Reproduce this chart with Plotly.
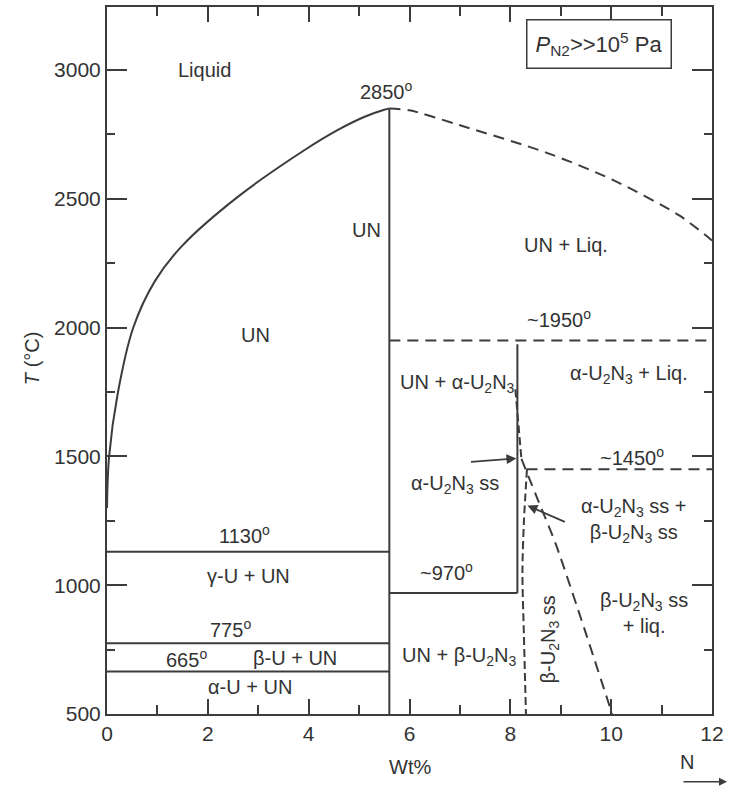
import plotly.graph_objects as go

# ---------------- data ----------------
liquidus_x = [0, 0.04, 0.21, 0.52, 0.95, 1.48, 2.6, 3.92, 4.58, 5.11, 5.5, 5.6]
liquidus_t = [1300, 1496, 1741, 1999, 2180, 2315, 2508, 2689, 2767, 2818, 2845, 2850]

un_liq_x = [5.6, 6.0, 7.0, 8.71, 10.02, 11.35, 12.0]
un_liq_t = [2850, 2843, 2785, 2679, 2574, 2435, 2338]

un_vert_x = [5.6, 5.6]
un_vert_t = [500, 2850]

iso_1950_x = [5.6, 12.0]
iso_1950_t = [1950, 1950]

iso_1450_x = [8.32, 12.0]
iso_1450_t = [1450, 1450]

u2n3_vert_x = [8.14, 8.14]
u2n3_vert_t = [970, 1935]

iso_970_x = [5.6, 8.14]
iso_970_t = [970, 970]

iso_1130_x = [0, 5.6]
iso_1130_t = [1130, 1130]
iso_775_x = [0, 5.6]
iso_775_t = [775, 775]
iso_665_x = [0, 5.6]
iso_665_t = [665, 665]

alpha_solvus_x = [8.1, 8.16, 8.22]
alpha_solvus_t = [1760, 1620, 1490]

beta_solvus_x = [8.33, 8.27, 8.24, 8.27, 8.31]
beta_solvus_t = [1450, 1250, 1050, 800, 500]

beta_liq_x = [8.22, 8.57, 8.9, 10.02]
beta_liq_t = [1490, 1320, 1160, 500]

x_ticks = [0, 2, 4, 6, 8, 10, 12]
y_ticks = [500, 1000, 1500, 2000, 2500, 3000]

labels = [
    ("Liquid", 1.94, 3000),
    ("2850<sup>o</sup>", 5.55, 2918),
    ("UN", 5.15, 2377),
    ("UN + Liq.", 9.1, 2322),
    ("UN", 2.95, 1970),
    ("~1950<sup>o</sup>", 8.97, 2036),
    ("UN + α-U<sub>2</sub>N<sub>3</sub>", 6.95, 1781),
    ("α-U<sub>2</sub>N<sub>3</sub> + Liq.", 10.35, 1816),
    ("~1450<sup>o</sup>", 10.42, 1498),
    ("α-U<sub>2</sub>N<sub>3</sub> ss", 6.91, 1390),
    ("α-U<sub>2</sub>N<sub>3</sub> ss +<br>β-U<sub>2</sub>N<sub>3</sub> ss", 10.45, 1252),
    ("1130<sup>o</sup>", 2.73, 1197),
    ("γ-U + UN", 2.8, 1034),
    ("775<sup>o</sup>", 2.44, 833),
    ("665<sup>o</sup>", 1.58, 717),
    ("β-U + UN", 3.72, 717),
    ("α-U + UN", 2.83, 605),
    ("~970<sup>o</sup>", 6.73, 1053),
    ("UN + β-U<sub>2</sub>N<sub>3</sub>", 6.99, 724),
    ("β-U<sub>2</sub>N<sub>3</sub> ss<br>+ liq.", 10.65, 893),
]

# ---------------- styles ----------------
LC = "#3c3c3c"
TC = "#333333"
FONT = "Liberation Sans, Arial, sans-serif"
FS = 20

# plot-area pixel geometry (for paper-coordinate placement outside the axes)
L, R, T, B, W, H = 107, 16, 5, 74, 729, 788
PW, PH = W - L - R, H - T - B


def px(xp):
    return (xp - L) / PW


def py(yp):
    return (H - B - yp) / PH


fig = go.Figure()


def add_line(xs, ts, dash="solid", shape="linear", smoothing=0.8):
    fig.add_trace(go.Scatter(
        x=xs, y=ts, mode="lines",
        line=dict(color=LC, width=2, dash=dash, shape=shape, smoothing=smoothing),
        hoverinfo="skip", showlegend=False, cliponaxis=True))


DASH = "11px,7px"
add_line(liquidus_x, liquidus_t, shape="spline", smoothing=1.0)
add_line(un_liq_x, un_liq_t, dash=DASH, shape="spline")
add_line(un_vert_x, un_vert_t)
add_line(iso_1950_x, iso_1950_t, dash=DASH)
add_line(iso_1450_x, iso_1450_t, dash=DASH)
add_line(u2n3_vert_x, u2n3_vert_t)
add_line(iso_970_x, iso_970_t)
add_line(iso_1130_x, iso_1130_t)
add_line(iso_775_x, iso_775_t)
add_line(iso_665_x, iso_665_t)
add_line(alpha_solvus_x, alpha_solvus_t, dash="8px,4px")
add_line(beta_solvus_x, beta_solvus_t, dash="8px,4px", shape="spline")
add_line(beta_liq_x, beta_liq_t, dash=DASH, shape="spline")

annotations = []
for txt, x, y in labels:
    annotations.append(dict(text=txt, x=x, y=y, xref="x", yref="y",
                            showarrow=False, font=dict(size=FS, color=TC, family=FONT)))

# rotated beta-U2N3 ss label
annotations.append(dict(text="β-U<sub>2</sub>N<sub>3</sub> ss", x=8.77, y=790, xref="x", yref="y",
                        showarrow=False, textangle=-90, font=dict(size=FS, color=TC, family=FONT)))

# arrows
annotations.append(dict(text="", x=8.12, y=1492, ax=7.19, ay=1478, xref="x", yref="y",
                        axref="x", ayref="y", showarrow=True, arrowhead=2, arrowsize=1.1,
                        arrowwidth=1.8, arrowcolor=LC, standoff=0))
annotations.append(dict(text="", x=8.34, y=1309, ax=9.11, ay=1243, xref="x", yref="y",
                        axref="x", ayref="y", showarrow=True, arrowhead=2, arrowsize=1.1,
                        arrowwidth=1.8, arrowcolor=LC, standoff=0))

# pressure box
annotations.append(dict(text="<i>P</i><sub>N2</sub>&gt;&gt;10<sup>5</sup> Pa", x=9.76, y=3100,
                        xref="x", yref="y", showarrow=False, bordercolor=LC, borderwidth=1.5,
                        borderpad=8, bgcolor="white", font=dict(size=22, color=TC, family=FONT)))

# axis titles (outside plot area, paper coordinates)
annotations.append(dict(text="Wt%", x=px(410), y=py(767), xref="paper", yref="paper",
                        showarrow=False, xanchor="center", yanchor="middle",
                        font=dict(size=FS, color=TC, family=FONT)))
annotations.append(dict(text="N", x=px(688), y=py(762), xref="paper", yref="paper",
                        showarrow=False, xanchor="center", yanchor="middle",
                        font=dict(size=FS, color=TC, family=FONT)))
annotations.append(dict(text="", x=px(728), y=py(782), ax=-45, ay=0,
                        xref="paper", yref="paper", axref="pixel", ayref="pixel",
                        showarrow=True, arrowhead=2, arrowsize=1,
                        arrowwidth=1.6, arrowcolor=LC, standoff=0))
annotations.append(dict(text="<i>T</i> (°C)", x=px(32), y=py(357), xref="paper", yref="paper",
                        showarrow=False, textangle=-90, xanchor="center", yanchor="middle",
                        font=dict(size=FS, color=TC, family=FONT)))

fig.update_layout(
    width=W, height=H,
    margin=dict(l=L, r=R, t=T, b=B),
    paper_bgcolor="white", plot_bgcolor="white",
    annotations=annotations,
    font=dict(family=FONT, size=FS, color=TC),
)

fig.update_xaxes(
    range=[0, 12], tickvals=x_ticks, ticktext=[str(v) for v in x_ticks],
    ticks="inside", ticklen=15, tickwidth=1.8, tickcolor=LC,
    showline=True, linecolor=LC, linewidth=2, mirror="ticks",
    showgrid=False, zeroline=False,
    minor=dict(ticks="inside", ticklen=9, tickwidth=1.8, tickcolor=LC, dtick=1, tick0=0, showgrid=False),
    tickfont=dict(size=21, color=TC, family=FONT),
)
fig.update_yaxes(
    range=[500, 3244], tickvals=y_ticks, ticktext=[str(v) for v in y_ticks],
    ticks="inside", ticklen=20, tickwidth=1.8, tickcolor=LC,
    showline=True, linecolor=LC, linewidth=2, mirror="ticks",
    showgrid=False, zeroline=False,
    minor=dict(ticks="inside", ticklen=8, tickwidth=1.8, tickcolor=LC, dtick=250, tick0=500, showgrid=False),
    tickfont=dict(size=21, color=TC, family=FONT),
)

fig.write_html("out.html")
